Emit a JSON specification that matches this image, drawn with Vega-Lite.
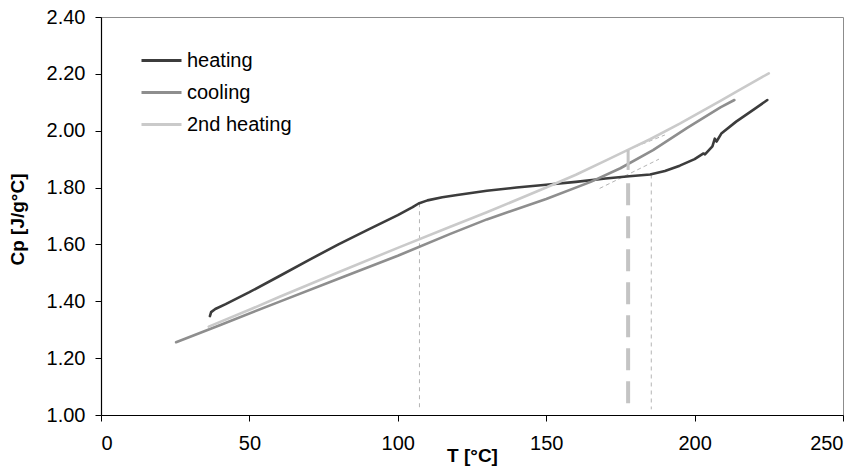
{
  "$schema": "https://vega.github.io/schema/vega-lite/v6.json",
  "width": 742,
  "height": 398,
  "autosize": {"type": "none"},
  "padding": {"left": 101, "top": 17, "right": 19, "bottom": 51},
  "background": "white",
  "config": {
    "font": "Liberation Sans",
    "view": {"stroke": "#8c8c8c", "strokeWidth": 1},
    "axis": {
      "grid": false,
      "domainColor": "#000000",
      "domainWidth": 1.2,
      "tickColor": "#000000",
      "tickSize": 6,
      "labelFont": "Liberation Sans",
      "labelFontSize": 20,
      "labelColor": "#000000",
      "titleFont": "Liberation Sans",
      "titleFontSize": 19,
      "titleFontWeight": "bold",
      "titleColor": "#000000"
    }
  },
  "datasets": {
    "curves": [
      {"series": "heating", "T": 36.7, "Cp": 1.348},
      {"series": "heating", "T": 37.1, "Cp": 1.362},
      {"series": "heating", "T": 38.5, "Cp": 1.373},
      {"series": "heating", "T": 42, "Cp": 1.390},
      {"series": "heating", "T": 50, "Cp": 1.432},
      {"series": "heating", "T": 60, "Cp": 1.488},
      {"series": "heating", "T": 70, "Cp": 1.545},
      {"series": "heating", "T": 80, "Cp": 1.600},
      {"series": "heating", "T": 90, "Cp": 1.652},
      {"series": "heating", "T": 100, "Cp": 1.703},
      {"series": "heating", "T": 105, "Cp": 1.731},
      {"series": "heating", "T": 107, "Cp": 1.744},
      {"series": "heating", "T": 110, "Cp": 1.755},
      {"series": "heating", "T": 115, "Cp": 1.766},
      {"series": "heating", "T": 120, "Cp": 1.774},
      {"series": "heating", "T": 130, "Cp": 1.789},
      {"series": "heating", "T": 140, "Cp": 1.800},
      {"series": "heating", "T": 150, "Cp": 1.810},
      {"series": "heating", "T": 160, "Cp": 1.820},
      {"series": "heating", "T": 170, "Cp": 1.832},
      {"series": "heating", "T": 178, "Cp": 1.840},
      {"series": "heating", "T": 185, "Cp": 1.846},
      {"series": "heating", "T": 190, "Cp": 1.858},
      {"series": "heating", "T": 195, "Cp": 1.877},
      {"series": "heating", "T": 200, "Cp": 1.900},
      {"series": "heating", "T": 203, "Cp": 1.920},
      {"series": "heating", "T": 203.5, "Cp": 1.917},
      {"series": "heating", "T": 206, "Cp": 1.945},
      {"series": "heating", "T": 206.8, "Cp": 1.972},
      {"series": "heating", "T": 207.4, "Cp": 1.962},
      {"series": "heating", "T": 209, "Cp": 1.990},
      {"series": "heating", "T": 214, "Cp": 2.032},
      {"series": "heating", "T": 220, "Cp": 2.075},
      {"series": "heating", "T": 224.5, "Cp": 2.108},
      {"series": "cooling", "T": 25.3, "Cp": 1.256},
      {"series": "cooling", "T": 40, "Cp": 1.316},
      {"series": "cooling", "T": 60, "Cp": 1.398},
      {"series": "cooling", "T": 80, "Cp": 1.479},
      {"series": "cooling", "T": 100, "Cp": 1.560},
      {"series": "cooling", "T": 117.7, "Cp": 1.637},
      {"series": "cooling", "T": 130, "Cp": 1.688},
      {"series": "cooling", "T": 150, "Cp": 1.760},
      {"series": "cooling", "T": 165, "Cp": 1.820},
      {"series": "cooling", "T": 175, "Cp": 1.868},
      {"series": "cooling", "T": 186, "Cp": 1.932},
      {"series": "cooling", "T": 197.5, "Cp": 2.010},
      {"series": "cooling", "T": 208.7, "Cp": 2.082},
      {"series": "cooling", "T": 213.4, "Cp": 2.108},
      {"series": "2nd heating", "T": 36.3, "Cp": 1.311},
      {"series": "2nd heating", "T": 50, "Cp": 1.370},
      {"series": "2nd heating", "T": 60, "Cp": 1.415},
      {"series": "2nd heating", "T": 80, "Cp": 1.502},
      {"series": "2nd heating", "T": 100, "Cp": 1.588},
      {"series": "2nd heating", "T": 117.7, "Cp": 1.662},
      {"series": "2nd heating", "T": 130, "Cp": 1.713},
      {"series": "2nd heating", "T": 150, "Cp": 1.800},
      {"series": "2nd heating", "T": 160, "Cp": 1.845},
      {"series": "2nd heating", "T": 170, "Cp": 1.895},
      {"series": "2nd heating", "T": 177, "Cp": 1.930},
      {"series": "2nd heating", "T": 185, "Cp": 1.970},
      {"series": "2nd heating", "T": 195, "Cp": 2.025},
      {"series": "2nd heating", "T": 208.7, "Cp": 2.105},
      {"series": "2nd heating", "T": 215, "Cp": 2.143},
      {"series": "2nd heating", "T": 225, "Cp": 2.202}
    ],
    "thinDrops": [
      {"T": 107.3, "top": 1.745, "bottom": 1.02},
      {"T": 185.4, "top": 1.846, "bottom": 1.02}
    ],
    "tangents": [
      {"id": "lower", "T": 168, "Cp": 1.797},
      {"id": "lower", "T": 188, "Cp": 1.900},
      {"id": "upper", "T": 178, "Cp": 1.935},
      {"id": "upper", "T": 190, "Cp": 1.985}
    ],
    "tgMarker": [
      {"T": 177.6, "top": 1.815, "bottom": 1.03, "stepTop": 1.932, "stepBottom": 1.862}
    ]
  },
  "layer": [
    {
      "data": {"name": "thinDrops"},
      "mark": {"type": "rule", "color": "#b4b4b4", "strokeWidth": 1, "strokeDash": [4, 4]},
      "encoding": {
        "x": {"field": "T", "type": "quantitative"},
        "y": {"field": "top", "type": "quantitative"},
        "y2": {"field": "bottom"}
      }
    },
    {
      "data": {"name": "tangents"},
      "mark": {"type": "line", "color": "#b4b4b4", "strokeWidth": 1, "strokeDash": [4, 3]},
      "encoding": {
        "x": {"field": "T", "type": "quantitative"},
        "y": {"field": "Cp", "type": "quantitative"},
        "detail": {"field": "id"}
      }
    },
    {
      "data": {"name": "tgMarker"},
      "mark": {"type": "rule", "color": "#c4c4c4", "strokeWidth": 4, "strokeDash": [22, 11]},
      "encoding": {
        "x": {"field": "T", "type": "quantitative"},
        "y": {"field": "top", "type": "quantitative"},
        "y2": {"field": "bottom"}
      }
    },
    {
      "data": {"name": "curves"},
      "mark": {"type": "line", "strokeWidth": 2.6, "strokeCap": "round", "strokeJoin": "round"},
      "encoding": {
        "x": {
          "field": "T",
          "type": "quantitative",
          "scale": {"domain": [0, 250], "nice": false, "zero": false},
          "axis": {
            "values": [0, 50, 100, 150, 200, 250],
            "format": "d",
            "labelPadding": 12,
            "title": "T [°C]",
            "titleBaseline": "alphabetic",
            "titleY": 46
          }
        },
        "y": {
          "field": "Cp",
          "type": "quantitative",
          "scale": {"domain": [1, 2.4], "nice": false, "zero": false},
          "axis": {
            "values": [1, 1.2, 1.4, 1.6, 1.8, 2, 2.2, 2.4],
            "format": ".2f",
            "labelPadding": 10,
            "title": "Cp [J/g°C]",
            "titleAngle": 270,
            "titleAlign": "center",
            "titleBaseline": "middle",
            "titleX": -84,
            "titleY": 202
          }
        },
        "color": {
          "field": "series",
          "type": "nominal",
          "scale": {
            "domain": ["heating", "cooling", "2nd heating"],
            "range": ["#3c3c3c", "#8e8e8e", "#cacaca"]
          },
          "legend": {
            "title": null,
            "orient": "none",
            "legendX": 39,
            "legendY": 22,
            "symbolType": "stroke",
            "symbolSize": 1600,
            "symbolStrokeWidth": 3,
            "labelFont": "Liberation Sans",
            "labelFontSize": 20,
            "labelColor": "#000000",
            "labelOffset": 4,
            "rowPadding": -6
          }
        }
      }
    },
    {
      "data": {"name": "tgMarker"},
      "mark": {"type": "rule", "color": "#c4c4c4", "strokeWidth": 3},
      "encoding": {
        "x": {"field": "T", "type": "quantitative"},
        "y": {"field": "stepTop", "type": "quantitative"},
        "y2": {"field": "stepBottom"}
      }
    }
  ]
}
